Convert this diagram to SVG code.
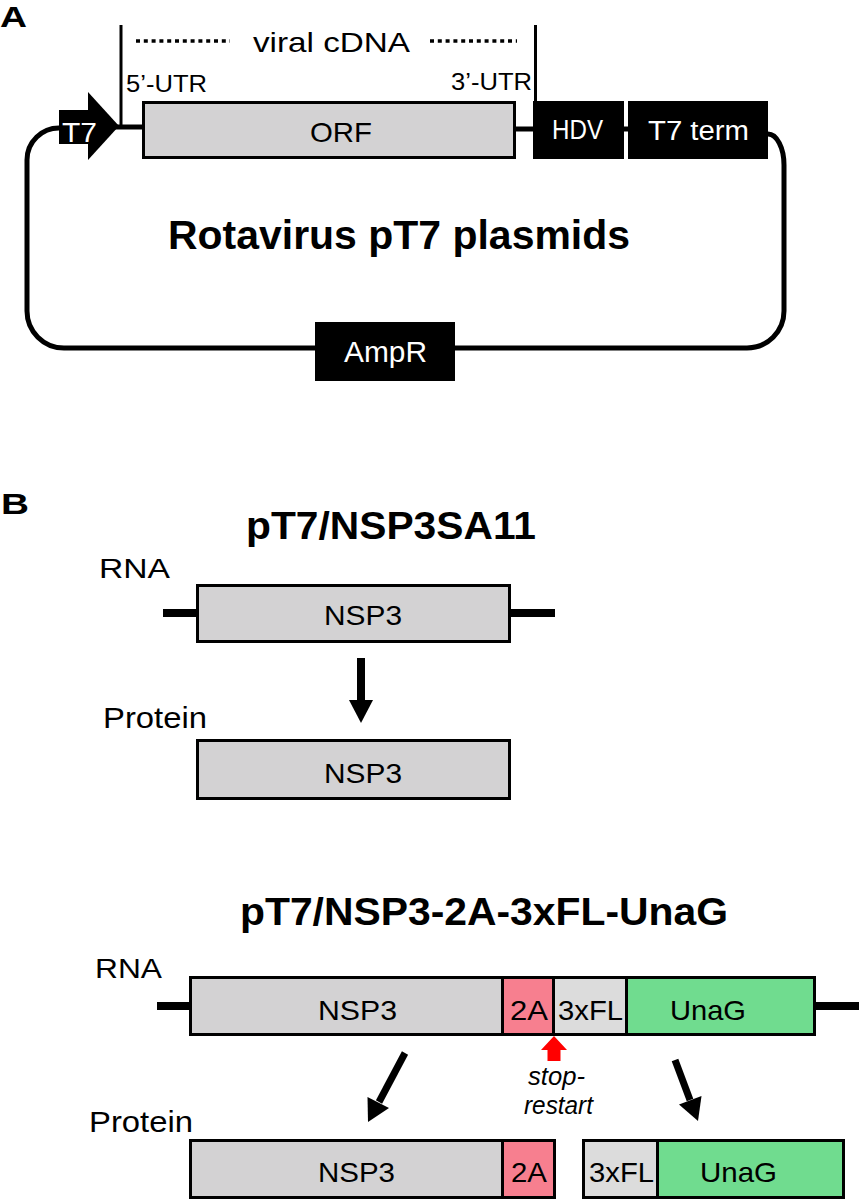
<svg xmlns="http://www.w3.org/2000/svg" width="859" height="1200" viewBox="0 0 859 1200">
<style>
text{font-family:"Liberation Sans",Arial,sans-serif;fill:#000}
.b{font-weight:bold}
.w{fill:#fff}
.it{font-style:italic}
.box{stroke:#000;stroke-width:3}
.g{fill:#d3d2d3}
.lg{fill:#dcdcdc}
.pk{fill:#f77f8f}
.gr{fill:#70dc8f}
.blk{fill:#000}
.ln{stroke:#000;fill:none}
</style>
<rect width="859" height="1200" fill="#fff"/>
<!-- Panel A -->
<text class="b" x="0" y="27" font-size="29" textLength="27" lengthAdjust="spacingAndGlyphs">A</text>
<g id="connectors">
<path class="ln" stroke-width="5" d="M60,128 A32,32 0 0 0 27,160 V311 A37,37 0 0 0 64,348 H747 A37,37 0 0 0 784,311 V165 A16,31 0 0 0 768,134"/>
<line class="ln" x1="115" y1="127" x2="143" y2="127" stroke-width="5"/>
<line class="ln" x1="514" y1="129" x2="534" y2="129" stroke-width="5"/>
<line class="ln" x1="623" y1="129" x2="629" y2="129" stroke-width="5"/>
<line class="ln" x1="121" y1="25" x2="121" y2="127" stroke-width="3"/>
<line class="ln" x1="535.5" y1="25" x2="535.5" y2="101" stroke-width="3"/>
<line class="ln" x1="136" y1="41" x2="230" y2="41" stroke-width="3.5" stroke-dasharray="4 3.8"/>
<line class="ln" x1="430" y1="41" x2="517" y2="41" stroke-width="3.5" stroke-dasharray="4 3.8"/>
<line class="ln" x1="163" y1="613" x2="198" y2="613" stroke-width="8"/>
<line class="ln" x1="509" y1="613" x2="555" y2="613" stroke-width="8"/>
<line class="ln" x1="361" y1="658" x2="361" y2="702" stroke-width="8"/>
<polygon class="blk" points="349,700 373,700 361,723"/>
<line class="ln" x1="157" y1="1006" x2="191" y2="1006" stroke-width="8"/>
<line class="ln" x1="814" y1="1006" x2="859" y2="1006" stroke-width="8"/>
<line class="ln" x1="405" y1="1053" x2="379" y2="1102" stroke-width="7"/>
<polygon class="blk" points="389,1108 367.5,1097 368,1122"/>
<line class="ln" x1="675" y1="1060" x2="690" y2="1100" stroke-width="7"/>
<polygon class="blk" points="701.5,1096 679,1104.5 698,1121"/>
<polygon fill="#ff0000" points="554,1036 567,1050 560.5,1050 560.5,1061 547.5,1061 547.5,1050 541,1050"/>
</g>
<text x="253" y="52" font-size="28" textLength="157" lengthAdjust="spacingAndGlyphs">viral cDNA</text>
<text x="126" y="92" font-size="24" textLength="81" lengthAdjust="spacingAndGlyphs">5’-UTR</text>
<text x="451" y="90" font-size="24" textLength="81" lengthAdjust="spacingAndGlyphs">3’-UTR</text>
<g id="T7">
<rect class="blk" x="59" y="110" width="30" height="34"/>
<polygon class="blk" points="88,92 119,126 88,160"/>
<text class="w" x="62" y="142" font-size="27" textLength="35" lengthAdjust="spacingAndGlyphs">T7</text>
</g>
<g id="ORF">
<rect class="box g" x="143.5" y="102.5" width="371" height="55"/>
<text x="310" y="142" font-size="28" textLength="62" lengthAdjust="spacingAndGlyphs">ORF</text>
</g>
<g id="HDV">
<rect class="blk" x="533" y="101" width="91" height="58"/>
<text class="w" x="552" y="139" font-size="27" textLength="51" lengthAdjust="spacingAndGlyphs">HDV</text>
</g>
<g id="T7term">
<rect class="blk" x="628" y="101" width="140" height="58"/>
<text class="w" x="648" y="140" font-size="27" textLength="101" lengthAdjust="spacingAndGlyphs">T7 term</text>
</g>
<g id="AmpR">
<rect class="blk" x="315" y="322" width="140" height="59"/>
<text class="w" x="344" y="362" font-size="29" textLength="83" lengthAdjust="spacingAndGlyphs">AmpR</text>
</g>
<text class="b" x="168" y="249" font-size="40" textLength="462" lengthAdjust="spacingAndGlyphs">Rotavirus pT7 plasmids</text>
<!-- Panel B -->
<text class="b" x="1" y="514" font-size="29" textLength="28" lengthAdjust="spacingAndGlyphs">B</text>
<text class="b" x="246" y="539" font-size="39" textLength="290" lengthAdjust="spacingAndGlyphs">pT7/NSP3SA11</text>
<text x="99" y="578" font-size="28" textLength="71" lengthAdjust="spacingAndGlyphs">RNA</text>
<g id="rna1">
<rect class="box g" x="197.5" y="585.5" width="312" height="56"/>
<text x="324" y="625" font-size="28" textLength="78" lengthAdjust="spacingAndGlyphs">NSP3</text>
</g>
<text x="103" y="728" font-size="29" textLength="104" lengthAdjust="spacingAndGlyphs">Protein</text>
<g id="prot1">
<rect class="box g" x="197.5" y="740.5" width="312" height="58"/>
<text x="324" y="783" font-size="28" textLength="78" lengthAdjust="spacingAndGlyphs">NSP3</text>
</g>
<text class="b" x="240" y="925" font-size="39" textLength="488" lengthAdjust="spacingAndGlyphs">pT7/NSP3-2A-3xFL-UnaG</text>
<text x="95" y="978" font-size="28" textLength="67" lengthAdjust="spacingAndGlyphs">RNA</text>
<g id="rna2">
<rect class="box g" x="190.5" y="977.5" width="312" height="57"/>
<rect class="box pk" x="502.5" y="977.5" width="51" height="57"/>
<rect class="box lg" x="553.5" y="977.5" width="73" height="57"/>
<rect class="box gr" x="626.5" y="977.5" width="188" height="57"/>
<text x="318" y="1020" font-size="28" textLength="79" lengthAdjust="spacingAndGlyphs">NSP3</text>
<text x="510" y="1020" font-size="28" textLength="38" lengthAdjust="spacingAndGlyphs">2A</text>
<text x="558" y="1020" font-size="28" textLength="65" lengthAdjust="spacingAndGlyphs">3xFL</text>
<text x="670" y="1020" font-size="28" textLength="76" lengthAdjust="spacingAndGlyphs">UnaG</text>
</g>
<text class="it" x="528" y="1085" font-size="25" textLength="57" lengthAdjust="spacingAndGlyphs">stop-</text>
<text class="it" x="524" y="1114" font-size="25" textLength="69" lengthAdjust="spacingAndGlyphs">restart</text>
<text x="89" y="1132" font-size="29" textLength="104" lengthAdjust="spacingAndGlyphs">Protein</text>
<g id="prot2a">
<rect class="box g" x="190.5" y="1140.5" width="312" height="57"/>
<rect class="box pk" x="502.5" y="1140.5" width="52" height="57"/>
<text x="318" y="1182" font-size="28" textLength="77" lengthAdjust="spacingAndGlyphs">NSP3</text>
<text x="511" y="1182" font-size="28" textLength="36" lengthAdjust="spacingAndGlyphs">2A</text>
</g>
<g id="prot2b">
<rect class="box lg" x="583.5" y="1140.5" width="74" height="57"/>
<rect class="box gr" x="657.5" y="1140.5" width="186" height="57"/>
<text x="589" y="1182" font-size="28" textLength="65" lengthAdjust="spacingAndGlyphs">3xFL</text>
<text x="700" y="1182" font-size="28" textLength="77" lengthAdjust="spacingAndGlyphs">UnaG</text>
</g>
</svg>
